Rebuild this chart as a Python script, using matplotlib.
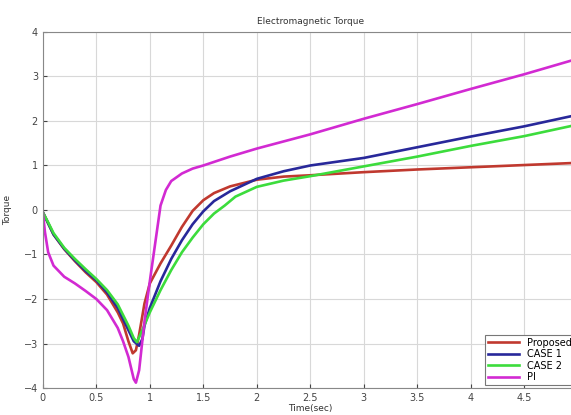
import numpy as np
import matplotlib
matplotlib.use("Agg")
import matplotlib.pyplot as plt

# values (time in sec, torque)
t_prop = [0, 0.05, 0.1, 0.2, 0.3, 0.4, 0.5, 0.6, 0.7, 0.75, 0.8, 0.84, 0.87, 0.9, 0.95,
          1.0, 1.1, 1.2, 1.3, 1.4, 1.5, 1.6, 1.75, 2.0, 2.25, 2.5, 3.0, 3.5, 4.0, 4.5, 5.0]
y_prop = [-0.05, -0.3, -0.55, -0.88, -1.15, -1.4, -1.62, -1.9, -2.3, -2.55, -2.95, -3.22, -3.15, -2.8, -2.1,
          -1.65, -1.2, -0.8, -0.38, -0.02, 0.22, 0.38, 0.53, 0.68, 0.75, 0.78, 0.85, 0.91, 0.96, 1.01, 1.06]

t_case1 = [0, 0.05, 0.1, 0.2, 0.3, 0.4, 0.5, 0.6, 0.7, 0.8, 0.85, 0.9, 0.93, 0.95,
           1.0, 1.1, 1.2, 1.3, 1.4, 1.5, 1.6, 1.75, 2.0, 2.25, 2.5, 3.0, 3.5, 4.0, 4.5, 5.0]
y_case1 = [-0.05, -0.3, -0.55, -0.87, -1.13, -1.37, -1.58, -1.85, -2.2, -2.7, -2.95, -3.05, -2.9, -2.6,
           -2.2, -1.6, -1.1, -0.68, -0.32, -0.03, 0.2, 0.42, 0.7, 0.87, 1.0, 1.17, 1.41, 1.65, 1.88, 2.14]

t_case2 = [0, 0.05, 0.1, 0.2, 0.3, 0.4, 0.5, 0.6, 0.7, 0.8, 0.85, 0.88, 0.92,
           1.0, 1.1, 1.2, 1.3, 1.4, 1.5, 1.6, 1.7, 1.8, 2.0, 2.25, 2.5, 3.0, 3.5, 4.0, 4.5, 5.0]
y_case2 = [-0.05, -0.28, -0.52, -0.85, -1.1, -1.33, -1.55, -1.8, -2.12, -2.6, -2.88, -2.97, -2.75,
           -2.3, -1.8, -1.35, -0.95, -0.62, -0.32, -0.08, 0.1, 0.3, 0.52, 0.66, 0.76, 0.98, 1.2, 1.44, 1.66, 1.92]

t_pi = [0, 0.02, 0.05, 0.1, 0.2, 0.3, 0.4, 0.5, 0.6, 0.7, 0.75, 0.8, 0.85, 0.87, 0.9, 0.95,
        1.0, 1.05, 1.1, 1.15, 1.2, 1.3, 1.4, 1.5, 1.75, 2.0, 2.5, 3.0, 3.5, 4.0, 4.5, 5.0]
y_pi = [-0.05, -0.5, -0.95, -1.25, -1.5, -1.65, -1.82, -2.0, -2.25, -2.65, -2.95, -3.3, -3.8, -3.88, -3.6, -2.5,
        -1.6, -0.75, 0.1, 0.45, 0.65, 0.82, 0.93, 1.0, 1.2, 1.38, 1.7, 2.05, 2.38, 2.72, 3.05, 3.4]

labels = ["Proposed", "CASE 1", "CASE 2", "PI"]
colors = ["#c0392f", "#28289a", "#3cdc3c", "#d22ad2"]

xticks = [0, 0.5, 1, 1.5, 2, 2.5, 3, 3.5, 4, 4.5, 5]
# last label falls outside the cropped picture, as in the reference
xticklabels = ["0", "0.5", "1", "1.5", "2", "2.5", "3", "3.5", "4", "4.5", ""]
yticks = [-4, -3, -2, -1, 0, 1, 2, 3, 4]

fig = plt.figure(figsize=(5.71, 4.15), dpi=100)
ax = fig.add_axes([0.075, 0.065, 0.937, 0.858])

series = [(t_prop, y_prop), (t_case1, y_case1), (t_case2, y_case2), (t_pi, y_pi)]
for (t, y), lab, c in zip(series, labels, colors):
    ax.plot(t, y, color=c, lw=1.9, label=lab)

ax.set_xlim(0, 5)
ax.set_ylim(-4, 4)
ax.set_xticks(xticks)
ax.set_xticklabels(xticklabels)
ax.set_yticks(yticks)
ax.grid(True, color="#d8d8d8", lw=0.8)
ax.tick_params(direction="in", labelsize=7, colors="#444444", length=3)
for s in ax.spines.values():
    s.set_color("#888888")

ax.set_title("Electromagnetic Torque", fontsize=6.5, color="#333333", pad=6)
ax.set_xlabel("Time(sec)", fontsize=6.5, color="#333333", labelpad=1)
ax.set_ylabel("Torque", fontsize=6.5, color="#333333", labelpad=8)

leg = ax.legend(loc="lower right", bbox_to_anchor=(1.0, 0.0), fontsize=7,
                fancybox=False, framealpha=1, edgecolor="#777777",
                handlelength=3.2, borderpad=0.3, labelspacing=0.15, borderaxespad=0.3)
leg.get_frame().set_linewidth(0.8)

fig.savefig("out.png", dpi=100)
